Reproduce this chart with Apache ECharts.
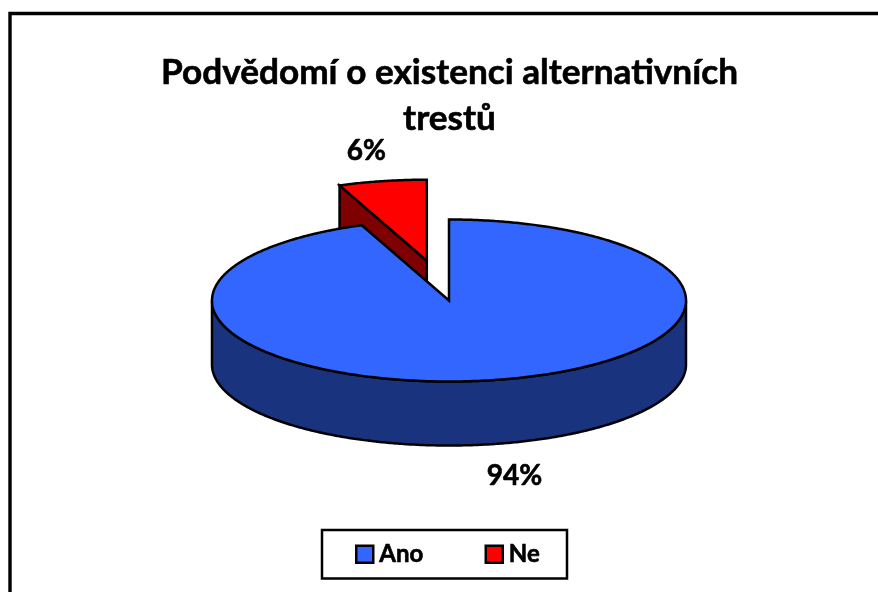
<!DOCTYPE html>
<html>
<head>
<meta charset="utf-8">
<title>Podvědomí o existenci alternativních trestů</title>
<script src="https://cdn.jsdelivr.net/npm/echarts@6/dist/echarts.min.js"></script>
<style>
html, body { margin: 0; padding: 0; background: #fff; overflow: hidden; }
#graph { width: 878px; height: 592px; }
</style>
</head>
<body>
<div id="graph"></div>
<script>
"use strict"

const chartTitle = "Podvědomí o existenci alternativních\ntrestů";
const categories = ["Ano", "Ne"];
const percents = [94, 6];
const topColors = ["#3366ff", "#ff0000"];
const wallColors = ["#1a337f", "#7f0000"];
const exploded = [0, 0.5];

const fontName = "Lato";
// the tilted pie: ellipse centre, radii and the height of the wall
const cx = 449, cy = 300.5, rx = 237, ry = 81, depth = 64;
const edge = { stroke: "#000", lineWidth: 2.5, lineJoin: "miter" };
// Lato bold is thinner than the original face, a hairline brings it closer
const heavy = { textBorderColor: "#000", textBorderWidth: 0.6 };

const total = percents.reduce((a, c) => a + c, 0);

/** point on the ellipse, t in degrees clockwise from 12 o'clock */
function rim(t, ox, oy)
{
    const rad = t * Math.PI / 180;
    return [cx + ox + rx * Math.sin(rad), cy + oy - ry * Math.cos(rad)];
}

function arc(from, to, ox, oy, drop)
{
    const pts = [];
    const steps = Math.max(2, Math.ceil(Math.abs(to - from) * 2));
    for (let i = 0; i <= steps; i++)
    {
        const p = rim(from + (to - from) * i / steps, ox, oy);
        pts.push([p[0], p[1] + drop]);
    }
    return pts;
}

function poly(points, fill)
{
    return {
        type: "polygon",
        shape: { points: points },
        style: Object.assign({ fill: fill }, edge)
    };
}

function sliceRenderer(idx)
{
    return () =>
    {
        const start = percents.slice(0, idx).reduce((a, c) => a + c, 0) / total * 360;
        const end = start + percents[idx] / total * 360;
        const mid = (start + end) / 2 * Math.PI / 180;
        const ox = exploded[idx] * rx * Math.sin(mid);
        const oy = -exploded[idx] * ry * Math.cos(mid);
        const apex = [cx + ox, cy + oy];
        const children = [];

        // side walls that face the viewer
        const frontFrom = Math.max(start, 90), frontTo = Math.min(end, 270);
        if (frontTo > frontFrom)
        {
            const wall = arc(frontFrom, frontTo, ox, oy, 0).concat(arc(frontTo, frontFrom, ox, oy, depth));
            children.push(poly(wall, wallColors[idx]));
        }
        if (start >= 270)
        {
            const p = rim(start, ox, oy);
            children.push(poly([apex, p, [p[0], p[1] + depth], [apex[0], apex[1] + depth]], wallColors[idx]));
        }

        // top face
        children.push(poly([apex].concat(arc(start, end, ox, oy, 0)), topColors[idx]));

        // percent label, outside the rim at the middle of the slice
        const outer = rim((start + end) / 2, ox, oy);
        const front = Math.cos(mid) < 0;
        children.push({
            type: "text",
            style: {
                x: outer[0] + (Math.sin(mid) > 0 ? 21 : -16),
                y: outer[1] + (front ? depth + 32 : -30),
                text: Math.round(percents[idx] / total * 100) + "%",
                fill: "#000",
                stroke: "#000",
                lineWidth: 0.6,
                font: "bold 28px " + fontName,
                align: "center",
                verticalAlign: "middle"
            }
        });
        return { type: "group", children: children };
    };
}

const myChart = echarts.init(document.getElementById("graph"), null, { renderer: "canvas" });

myChart.setOption({
    animation: false,
    backgroundColor: "#fff",
    title: {
        text: chartTitle,
        left: 444.5,
        top: 45,
        textAlign: "center",
        textStyle: Object.assign({ fontFamily: fontName, fontWeight: "bold", fontSize: 35.2, lineHeight: 46, color: "#000" }, heavy)
    },
    legend: {
        data: categories,
        left: 322,
        top: 530,
        orient: "horizontal",
        padding: [12, 27, 12, 33],
        borderColor: "#000",
        borderWidth: 2.5,
        itemWidth: 17,
        itemHeight: 17,
        itemGap: 61,
        icon: "rect",
        itemStyle: { borderColor: "#000", borderWidth: 2.5 },
        selectedMode: false,
        textStyle: Object.assign({ fontFamily: fontName, fontWeight: "bold", fontSize: 24, color: "#000", padding: [0, 0, 0, 1] }, heavy)
    },
    graphic: [{
        type: "polyline",
        silent: true,
        shape: { points: [[10, 592], [10, 13.5], [878, 13.5]] },
        style: { fill: "none", stroke: "#000", lineWidth: 3.4 }
    }],
    // Ne is drawn first, Ano paints over its wall
    series: categories.map((name, idx) => ({
        name: name,
        type: "custom",
        coordinateSystem: "none",
        silent: true,
        z: categories.length - idx,
        itemStyle: { color: topColors[idx] },
        renderItem: sliceRenderer(idx),
        data: [percents[idx]]
    }))
});
</script>
</body>
</html>
